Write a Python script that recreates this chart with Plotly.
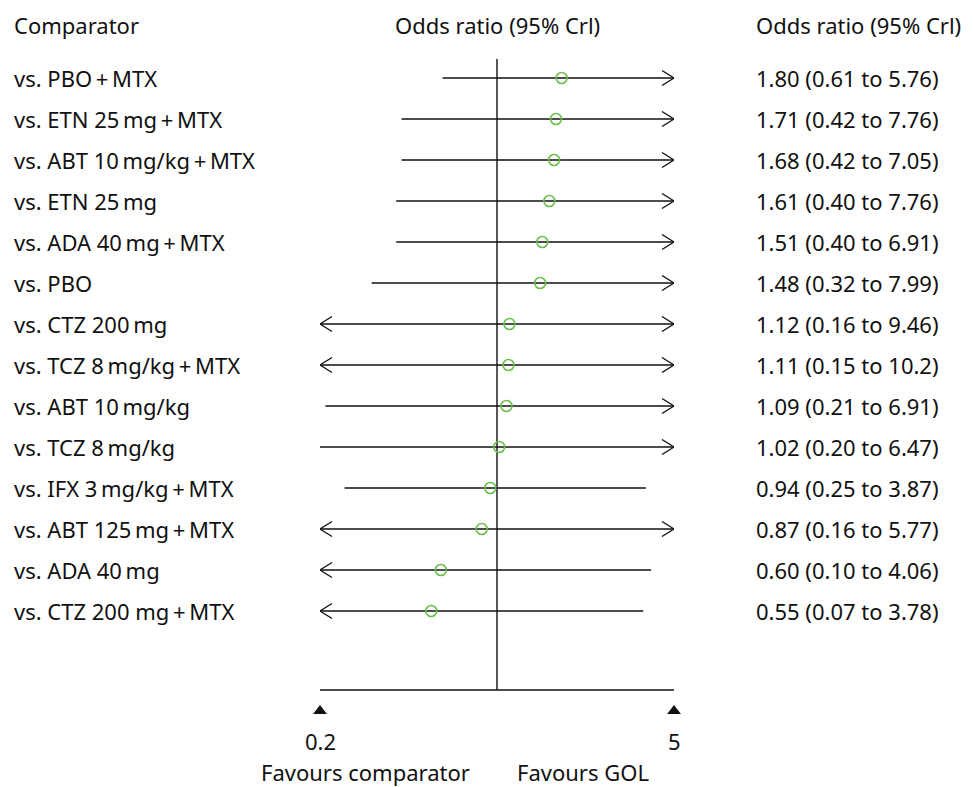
import math
import plotly.graph_objects as go

T = "\u2009"  # thin space
comparators = [
    f"vs. PBO{T}+{T}MTX",
    f"vs. ETN 25{T}mg{T}+{T}MTX",
    f"vs. ABT 10{T}mg/kg{T}+{T}MTX",
    f"vs. ETN 25{T}mg",
    f"vs. ADA 40{T}mg{T}+{T}MTX",
    "vs. PBO",
    f"vs. CTZ 200{T}mg",
    f"vs. TCZ 8{T}mg/kg{T}+{T}MTX",
    f"vs. ABT 10{T}mg/kg",
    f"vs. TCZ 8{T}mg/kg",
    f"vs. IFX 3{T}mg/kg{T}+{T}MTX",
    f"vs. ABT 125{T}mg{T}+{T}MTX",
    f"vs. ADA 40{T}mg",
    f"vs. CTZ 200 mg{T}+{T}MTX",
]
odds_ratio = [1.80, 1.71, 1.68, 1.61, 1.51, 1.48, 1.12, 1.11, 1.09, 1.02, 0.94, 0.87, 0.60, 0.55]
ci_lower = [0.61, 0.42, 0.42, 0.40, 0.40, 0.32, 0.16, 0.15, 0.21, 0.20, 0.25, 0.16, 0.10, 0.07]
ci_upper = [5.76, 7.76, 7.05, 7.76, 6.91, 7.99, 9.46, 10.2, 6.91, 6.47, 3.87, 5.77, 4.06, 3.78]
ci_labels = [
    "1.80 (0.61 to 5.76)", "1.71 (0.42 to 7.76)", "1.68 (0.42 to 7.05)",
    "1.61 (0.40 to 7.76)", "1.51 (0.40 to 6.91)", "1.48 (0.32 to 7.99)",
    "1.12 (0.16 to 9.46)", "1.11 (0.15 to 10.2)", "1.09 (0.21 to 6.91)",
    "1.02 (0.20 to 6.47)", "0.94 (0.25 to 3.87)", "0.87 (0.16 to 5.77)",
    "0.60 (0.10 to 4.06)", "0.55 (0.07 to 3.78)",
]
axis_min, axis_max = 0.2, 5
tick_labels = ["0.2", "5"]
favour_labels = ["Favours comparator", "Favours GOL"]

FONT = "Noto Sans"
FS = 22
BLACK = "#111111"
GREEN = "#6abf4b"

OFF = 8                  # page body margin
W, H = 973 - OFF, 787 - OFF
L, R = 320 - OFF, 674 - OFF        # pixel extent of plot area horizontally
TOP, BOT = 59 - OFF, 730 - OFF     # pixel extent of plot area vertically
ROW0, ROWSTEP = 78 - OFF, 41

def py2y(py):
    return (py - OFF - ROW0) / ROWSTEP

def px2paper(px):
    return (px - OFF - L) / (R - L)

def py2paper(py):
    return (BOT - (py - OFF)) / (BOT - TOP)

rows = list(range(len(comparators)))
y_top = (TOP - ROW0) / ROWSTEP
y_bot = (BOT - ROW0) / ROWSTEP
y_axis = py2y(690)

# arrow geometry (decades, row units)
px_per_dec = (R - L) / (math.log10(axis_max) - math.log10(axis_min))
dd = 12 / px_per_dec
dy = 7.5 / ROWSTEP

line_x, line_y = [], []
chev_x, chev_y = [], []
for i, (lo, hi) in enumerate(zip(ci_lower, ci_upper)):
    line_x += [max(lo, axis_min), min(hi, axis_max), None]
    line_y += [i, i, None]
    if hi > axis_max:
        xb = axis_max * 10 ** (-dd)
        chev_x += [xb, axis_max, xb, None]
        chev_y += [i - dy, i, i + dy, None]
    if lo < axis_min:
        xb = axis_min * 10 ** (dd)
        chev_x += [xb, axis_min, xb, None]
        chev_y += [i - dy, i, i + dy, None]

fig = go.Figure()
lw = 1.4
# reference line at OR = 1 and the horizontal axis line
fig.add_trace(go.Scatter(x=[1, 1, None, axis_min, axis_max],
                         y=[y_top, y_axis, None, y_axis, y_axis], mode="lines",
                         line=dict(color=BLACK, width=lw), hoverinfo="skip",
                         cliponaxis=False))
fig.add_trace(go.Scatter(x=line_x, y=line_y, mode="lines",
                         line=dict(color=BLACK, width=lw), hoverinfo="skip",
                         cliponaxis=False))
fig.add_trace(go.Scatter(x=chev_x, y=chev_y, mode="lines",
                         line=dict(color=BLACK, width=lw), hoverinfo="skip",
                         cliponaxis=False))
fig.add_trace(go.Scatter(x=odds_ratio, y=rows, mode="markers",
                         marker=dict(symbol="circle-open", size=11,
                                     line=dict(color=GREEN, width=1.6), color=GREEN)))
fig.add_trace(go.Scatter(x=[axis_min, axis_max], y=[py2y(711)] * 2, mode="markers",
                         marker=dict(symbol="triangle-up", size=12, color=BLACK,
                                     line=dict(width=0)),
                         cliponaxis=False, hoverinfo="skip"))

ann = []
font = dict(family=FONT, size=FS, color=BLACK)
for i, (c, t) in enumerate(zip(comparators, ci_labels)):
    ann.append(dict(text=c, x=px2paper(12), y=i, xref="paper", yref="y",
                    xanchor="left", yanchor="middle", showarrow=False, font=font))
    ann.append(dict(text=t, x=px2paper(754), y=i, xref="paper", yref="y",
                    xanchor="left", yanchor="middle", showarrow=False, font=font))
hy = py2paper(25)
ann.append(dict(text="Comparator", x=px2paper(12), y=hy, xref="paper", yref="paper",
                xanchor="left", yanchor="middle", showarrow=False, font=font))
ann.append(dict(text="Odds ratio (95% Crl)", x=0.5, y=hy, xref="paper", yref="paper",
                xanchor="center", yanchor="middle", showarrow=False, font=font))
ann.append(dict(text="Odds ratio (95% Crl)", x=px2paper(754), y=hy, xref="paper", yref="paper",
                xanchor="left", yanchor="middle", showarrow=False, font=font))
for lbl, xv in zip(tick_labels, [axis_min, axis_max]):
    ann.append(dict(text=lbl, x=math.log10(xv), y=py2paper(741), xref="x", yref="paper",
                    xanchor="center", yanchor="middle", showarrow=False, font=font))
for lbl, px in zip(favour_labels, [365, 583]):
    ann.append(dict(text=lbl, x=px2paper(px), y=py2paper(772), xref="paper", yref="paper",
                    xanchor="center", yanchor="middle", showarrow=False, font=font,
                    borderpad=0))

fig.update_layout(
    width=W, height=H,
    margin=dict(l=L, r=W - R, t=TOP, b=H - BOT, pad=0),
    paper_bgcolor="white", plot_bgcolor="white",
    showlegend=False,
    annotations=ann,
    xaxis=dict(type="log", range=[math.log10(axis_min), math.log10(axis_max)],
               showgrid=False, zeroline=False, showticklabels=False, ticks="",
               showline=False),
    yaxis=dict(range=[y_bot, y_top], showgrid=False, zeroline=False,
               showticklabels=False, ticks="", showline=False),
)
fig.write_html("out.html")
